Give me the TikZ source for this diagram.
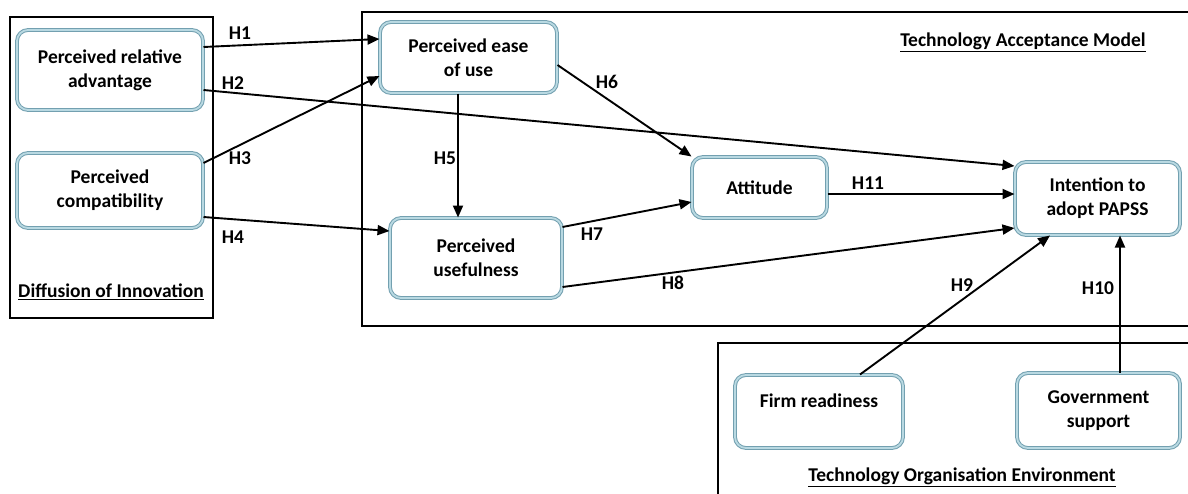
\documentclass[tikz,border=0pt]{standalone}
\usepackage{fontspec}
\setmainfont{Carlito}
\usetikzlibrary{arrows.meta}
\definecolor{bdark}{RGB}{115,160,176}
\definecolor{blight}{RGB}{185,217,226}
\tikzset{
  cons/.style={rectangle, rounded corners=11pt, draw=bdark, double=blight, double distance=1.8pt, line width=1pt, fill=white, align=center, font=\bfseries\fontsize{19.5}{24}\selectfont, inner sep=2pt},
  frame/.style={draw=black, line width=2.8pt},
  arr/.style={line width=1.9pt, -{Triangle[length=12pt,width=10pt]}},
  hlab/.style={font=\bfseries\fontsize{19.5}{24}\selectfont, inner sep=0pt},
  ttl/.style={font=\bfseries\fontsize{19.5}{24}\selectfont, inner sep=0pt}
}
\begin{document}
\begin{tikzpicture}[x=1pt,y=-1pt]
\useasboundingbox (0,0) rectangle (1188,493);
% frames
\draw[frame] (10,17) rectangle (213,318);
\draw[frame] (1200,12) -- (362,12) -- (362,326) -- (1200,326);
\draw[frame] (1200,343) -- (718,343) -- (718,500);
% nodes
\node[cons, minimum width=186pt, minimum height=80pt] (pra) at (110,70) {Perceived relative\\advantage};
\node[cons, minimum width=186pt, minimum height=75pt] (pc) at (110,190.5) {Perceived\\compatibility};
\node[cons, minimum width=177pt, minimum height=71pt] (peou) at (468.5,57.5) {Perceived ease\\of use};
\node[cons, minimum width=172pt, minimum height=80pt] (pu) at (476,258) {Perceived\\usefulness};
\node[cons, minimum width=135pt, minimum height=61pt] (att) at (759.5,187.5) {Attitude};
\node[cons, minimum width=165pt, minimum height=73pt] (int) at (1097.5,198.5) {Intention to\\adopt PAPSS};
\node[cons, minimum width=168pt, minimum height=73pt, text depth=22pt] (fr) at (819,411.5) {Firm readiness};
\node[cons, minimum width=163pt, minimum height=75pt] (gs) at (1098.5,410.5) {Government\\support};
% titles
\node[ttl] (doi) at (111,292) {\underline{Diffusion of Innovation}};
\node[ttl] (tam) at (1023,42) {\underline{Technology Acceptance Model}};
\node[ttl] (toe) at (962,477) {\underline{Technology Organisation Environment}};
% arrows
\draw[arr] (pra.east |- 0,47) -- (peou.west |- 0,39);
\node[hlab] (h1) at (240,33) {H1};
\draw[arr] (pra.east |- 0,90) -- (int.west |- 0,166);
\node[hlab] (h2) at (233,83) {H2};
\draw[arr] (pc.east |- 0,163) -- (peou.west |- 0,76);
\node[hlab] (h3) at (240,158) {H3};
\draw[arr] (pc.east |- 0,217) -- (pu.west |- 0,231);
\node[hlab] (h4) at (233,237) {H4};
\draw[arr] (peou.south -| 458,0) -- (pu.north -| 458,0);
\node[hlab] (h5) at (445,158) {H5};
\draw[arr] (peou.east |- 0,65) -- (att.north west) ;
\node[hlab] (h6) at (607,82) {H6};
\draw[arr] (pu.east |- 0,227) -- (att.west |- 0,202);
\node[hlab] (h7) at (592,234) {H7};
\draw[arr] (pu.east |- 0,287) -- (int.west |- 0,228);
\node[hlab] (h8) at (673,283) {H8};
\draw[arr] (att.east |- 0,194) -- (int.west |- 0,194);
\node[hlab] (h11) at (868,183) {H11};
\draw[arr] (fr.north -| 860,0) -- (int.south -| 1050,0);
\node[hlab] (h9) at (962,285) {H9};
\draw[arr] (gs.north -| 1120,0) -- (int.south -| 1120,0);
\node[hlab] (h10) at (1098,288) {H10};
\end{tikzpicture}
\end{document}
